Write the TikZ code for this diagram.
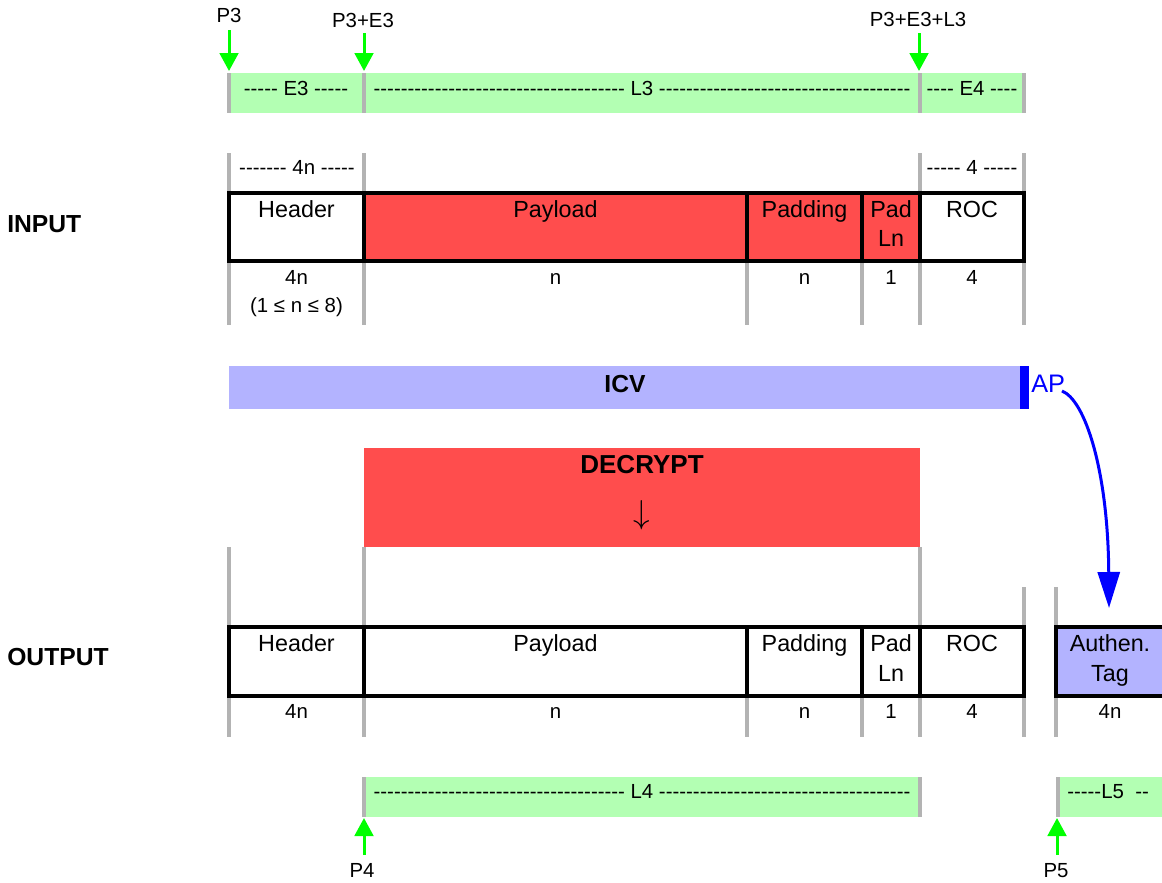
\documentclass[tikz,border=0pt]{standalone}
\usepackage{fontspec}
\setmainfont{Liberation Sans}[Ligatures=TeXOff]
\usetikzlibrary{arrows.meta,fit}
\definecolor{gfill}{HTML}{B3FFB3}
\definecolor{rfill}{HTML}{FF4D4D}
\definecolor{lav}{HTML}{B3B3FF}
\definecolor{tickc}{HTML}{B3B3B3}
\definecolor{garr}{HTML}{00FF00}
\definecolor{barr}{HTML}{0000FF}
\newcommand\bigf{\fontsize{17.5}{21}\selectfont}
\newcommand\smf{\fontsize{15.3}{18}\selectfont}
\newcommand\boldf{\fontsize{18.5}{22}\selectfont\bfseries}
\begin{document}
\begin{tikzpicture}[x=0.75pt,y=-0.75pt,
  tickline/.style={draw=tickc,line width=3pt},
  cell/.style={draw=black,line width=2.4pt,inner sep=0pt},
  band/.style={inner sep=0pt,draw=none},
  big/.style={font=\bigf,anchor=base,inner sep=0pt},
  small/.style={font=\smf,anchor=base,inner sep=0pt},
  bold/.style={font=\boldf,anchor=base,inner sep=0pt},
  garrow/.style={draw=garr,line width=2.25pt,-{Triangle[width=14pt,length=13.5pt]}},
  barrow/.style={draw=barr,line width=2.25pt,-{Triangle[width=16.5pt,length=27pt]}}]
\clip (0,0) rectangle (1162,882);
\fill[white] (0,0) rectangle (1162,882);

% ---------- top band ----------
\node[band, fill=gfill, fit={(229,73) (1024,113)}] (topband) {};
\foreach \x in {229,364,920,1024} \draw[tickline] (\x,73) -- (\x,113);
\node[small] (e3) at (296,95) {----- E3 -----};
\node[small] (l3) at (642,95) {------------------------------------- L3 -------------------------------------};
\node[small] (e4) at (972,95) {---- E4 ----};

\node[small] (p3) at (229,22) {P3};
\node[small] (p3e3) at (363,27) {P3+E3};
\node[small] (p3e3l3) at (918,26) {P3+E3+L3};
\coordinate (p3a) at (229,30);  \coordinate (p3b) at (229,71);
\coordinate (p3e3a) at (364,33); \coordinate (p3e3b) at (364,71);
\coordinate (p3e3l3a) at (919,33); \coordinate (p3e3l3b) at (919,71);
\draw[garrow] (p3a) -- (p3b);
\draw[garrow] (p3e3a) -- (p3e3b);
\draw[garrow] (p3e3l3a) -- (p3e3l3b);

% ---------- input ----------
\foreach \x in {229,364,920,1024} \draw[tickline] (\x,153) -- (\x,193);
\node[small] (h4n) at (297,174) {------- 4n -----};
\node[small] (r4) at (972,174) {----- 4 -----};
\foreach \x in {229,364,747,862,920,1024} \draw[tickline] (\x,261) -- (\x,325);

\node[cell, fill=white, fit={(229,193) (364,261)}] (inhdr) {};
\node[cell, fill=rfill, fit={(364,193) (747,261)}] (inpay) {};
\node[cell, fill=rfill, fit={(747,193) (862,261)}] (inpad) {};
\node[cell, fill=rfill, fit={(862,193) (920,261)}] (inpadln) {};
\node[cell, fill=white, fit={(920,193) (1024,261)}] (inroc) {};

\node[big] at (296.5,217) {Header};
\node[big] at (555.5,217) {Payload};
\node[big] at (804.5,217) {Padding};
\node[big] at (891,217) {Pad};
\node[big] at (891,246) {Ln};
\node[big] at (972,217) {ROC};

\node[small] at (296.5,284) {4n};
\node[small] at (296.5,312) {(1 ≤ n ≤ 8)};
\node[small] at (555.5,284) {n};
\node[small] at (804.5,284) {n};
\node[small] at (891,284) {1};
\node[small] at (972,284) {4};

\node[bold, anchor=base west] (input) at (7,232) {INPUT};

% ---------- ICV ----------
\node[band, fill=lav, fit={(229,366) (1020,409)}] (icv) {};
\node[band, fill=barr, fit={(1020,366) (1029,409)}] (icvend) {};
\node[bold] at (625,392) {ICV};
\node[font=\fontsize{19}{22}\selectfont, text=barr, anchor=base west, inner sep=0pt] (ap) at (1031,392) {AP};

% ---------- decrypt ----------
\node[band, fill=rfill, fit={(364,448) (920,547)}] (decrypt) {};
\node[font=\fontsize{19.5}{23}\selectfont\bfseries, anchor=base, inner sep=0pt] at (642,473) {DECRYPT};
\node[font=\fontsize{24}{28}\selectfont, inner sep=0pt] (darrow) at (642,515) {$\downarrow$};

% ---------- output ----------
\foreach \x in {229,364,920} \draw[tickline] (\x,547) -- (\x,627);
\foreach \x in {1024,1056} \draw[tickline] (\x,587) -- (\x,627);
\foreach \x in {229,364,747,862,920,1024,1056} \draw[tickline] (\x,696) -- (\x,737);

\node[cell, fill=white, fit={(229,627) (364,696)}] (outhdr) {};
\node[cell, fill=white, fit={(364,627) (747,696)}] (outpay) {};
\node[cell, fill=white, fit={(747,627) (862,696)}] (outpad) {};
\node[cell, fill=white, fit={(862,627) (920,696)}] (outpadln) {};
\node[cell, fill=white, fit={(920,627) (1024,696)}] (outroc) {};
\node[cell, fill=lav, fit={(1056,627) (1185,696)}] (tag) {};

\node[big] at (296.5,651) {Header};
\node[big] at (555.5,651) {Payload};
\node[big] at (804.5,651) {Padding};
\node[big] at (891,651) {Pad};
\node[big] at (891,681) {Ln};
\node[big] at (972,651) {ROC};
\node[big] at (1110,651) {Authen.};
\node[big] at (1110,681) {Tag};

\node[small] at (296.5,718) {4n};
\node[small] at (555.5,718) {n};
\node[small] at (804.5,718) {n};
\node[small] at (891,718) {1};
\node[small] at (972,718) {4};
\node[small] at (1110,718) {4n};

\node[bold, anchor=base west] (output) at (7,665) {OUTPUT};

% AP arrow
\coordinate (apstart) at (1062,391);
\coordinate (tagtop) at (1109,608);
\draw[barrow] (apstart) .. controls (1085,400) and (1108,470) .. (tagtop);

% ---------- bottom bands ----------
\node[band, fill=gfill, fit={(364,777) (920,817)}] (l4band) {};
\draw[tickline] (364,777) -- (364,817);
\draw[tickline] (920,777) -- (920,817);
\node[small] (l4) at (642,798) {------------------------------------- L4 -------------------------------------};
\node[band, fill=gfill, fit={(1056,777) (1185,817)}] (l5band) {};
\draw[tickline] (1058,777) -- (1058,817);
\node[small, anchor=base west] (l5) at (1067,798) {-----L5\ \ --};

\node[small] (p4) at (362,877) {P4};
\node[small] (p5) at (1056,877) {P5};
\coordinate (p4a) at (364,855); \coordinate (p4b) at (364,818);
\coordinate (p5a) at (1057,855); \coordinate (p5b) at (1057,818);
\draw[garrow] (p4a) -- (p4b);
\draw[garrow] (p5a) -- (p5b);
\end{tikzpicture}
\end{document}
